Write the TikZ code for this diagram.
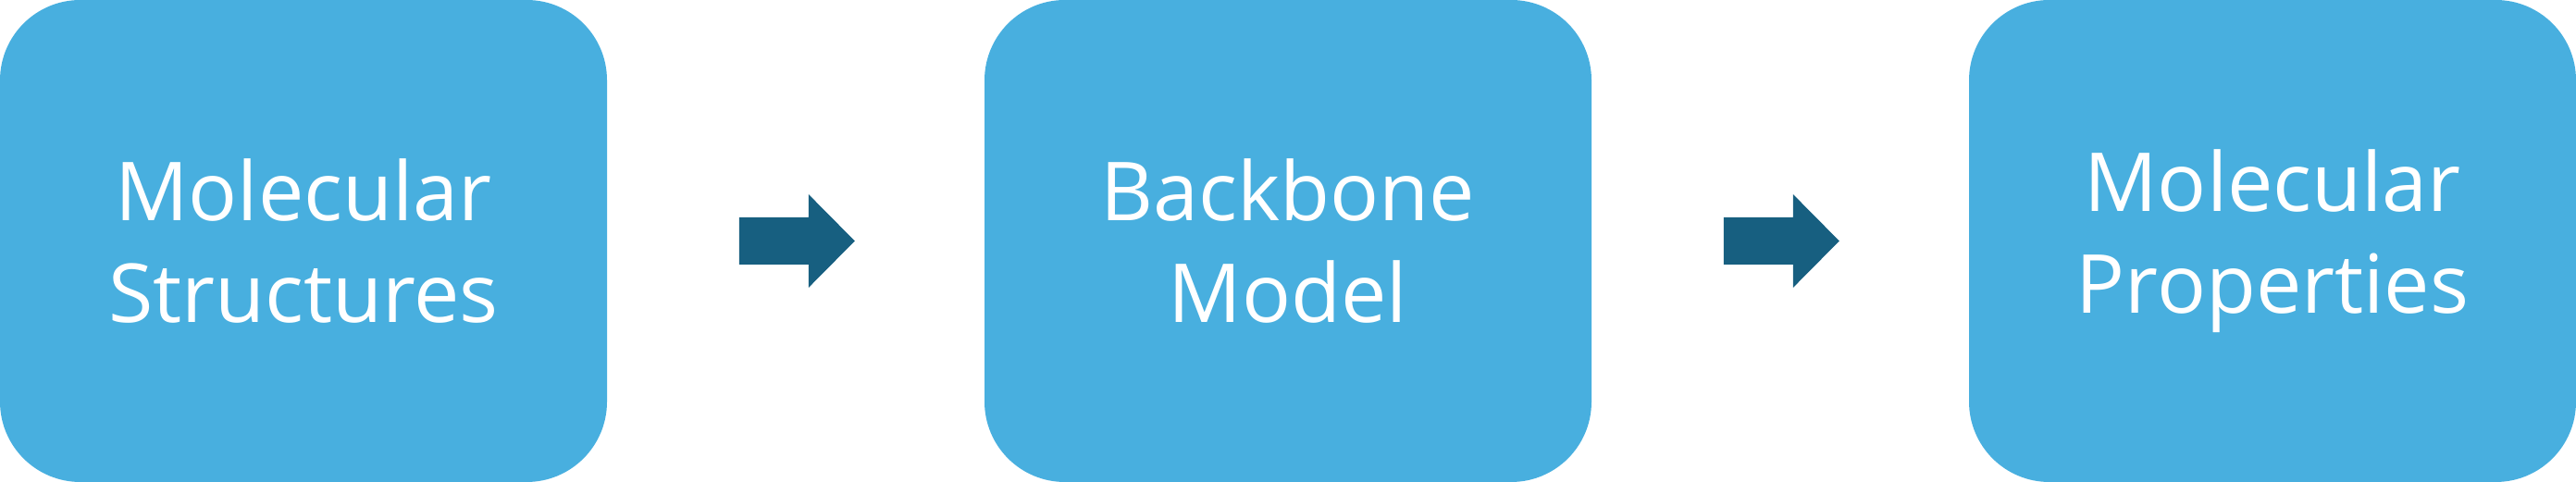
\documentclass[tikz,border=0pt]{standalone}
\usepackage{fontspec}
\newfontfamily\stagefont{Open Sans}
\definecolor{boxblue}{HTML}{48AFDF}
\definecolor{arrowblue}{HTML}{175F80}

\begin{document}
\begin{tikzpicture}
    \tikzstyle{stage}=[rectangle,rounded corners=21.7pt,fill=boxblue,text=white,minimum width=164pt,minimum height=130.25pt,inner sep=0pt,align=center,font={\stagefont\fontsize{22}{27.5}\selectfont}]
    \useasboundingbox (0,0) rectangle (696pt,130.25pt);

    \foreach \name/\x/\txt in {S/82pt/{Molecular\\Structures}, B/348pt/{Backbone\\Model}, P/614pt/{Molecular\\Properties}}
            \node[stage] (\name) at (\x,65.125pt) {\txt};

        \foreach \from in {S,B}
            \fill[arrowblue] ([xshift=35.5pt]\from.east) coordinate (A-\from)
                (A-\from) ++(0,6.375pt) -- ++(18.75pt,0) -- ++(0,6.25pt) -- ++(12.5pt,-12.625pt)
                -- ++(-12.5pt,-12.625pt) -- ++(0,6.25pt) -- ++(-18.75pt,0) -- cycle;
\end{tikzpicture}
\end{document}
